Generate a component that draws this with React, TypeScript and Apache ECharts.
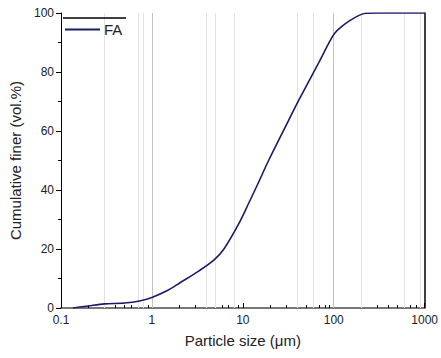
import React, { useEffect, useRef } from "react";
import * as echarts from "echarts";

const particleSize = [0.135, 0.2, 0.3, 0.5, 0.73, 1, 1.5, 2, 3.3, 4.8, 6.2, 9, 11.6, 15, 19.2, 32, 41, 68, 90, 103, 120, 150, 190, 225, 300, 1000];
const cumulativeFiner = [0, 0.7, 1.4, 1.7, 2.4, 3.6, 6.0, 8.4, 12.6, 16.2, 20.0, 28.5, 35.5, 42.8, 50, 63.7, 70.3, 83, 90.3, 93.2, 95.2, 97.4, 99.2, 99.9, 100, 100];
const gridLinesLight = [0.3, 0.7, 0.8, 4, 5, 8, 40, 60, 200, 600, 900];
const gridLinesDark = [1, 100];
const seriesName = "FA";

const FONT = "Liberation Sans, Arial, sans-serif";

export default function App() {
  const ref = useRef<HTMLDivElement>(null);
  useEffect(() => {
    document.body.style.margin = "0";
    const chart = echarts.init(ref.current!, null, { renderer: "svg" });
    const data = particleSize.map((x, i) => [x, cumulativeFiner[i]]);
    chart.setOption({
      animation: false,
      backgroundColor: "#fff",
      textStyle: { fontFamily: FONT },
      grid: { left: 61, right: 14, top: 13, bottom: 50 },
      legend: {
        left: 65,
        top: 22,
        padding: 0,
        itemWidth: 35,
        itemHeight: 2,
        itemGap: 4,
        data: [{ name: seriesName, icon: "rect" }],
        textStyle: { fontSize: 15, color: "#222", fontFamily: FONT, padding: [0, 0, 0, -1] },
      },
      xAxis: [
        {
          type: "log",
          logBase: 10,
          min: 0.1,
          max: 1000,
          name: "Particle size (\u03bcm)",
          nameLocation: "middle",
          nameGap: 25,
          nameTextStyle: { fontSize: 15, color: "#222", fontFamily: FONT },
          axisLine: { lineStyle: { color: "#000", width: 1 } },
          axisTick: { inside: true, length: 5, lineStyle: { color: "#000" } },
          minorTick: { show: true, splitNumber: 9, length: 3, lineStyle: { color: "#000" } },
          axisLabel: {
            fontSize: 12,
            color: "#222",
            margin: 6,
            formatter: (v: number) => String(v),
          },
          splitLine: { show: false },
        },
        {
          type: "value",
          position: "top",
          min: 0,
          max: 1,
          axisLine: { show: true, lineStyle: { color: "#777", width: 2 } },
          axisTick: { show: false },
          axisLabel: { show: false },
          splitLine: { show: false },
        },
      ],
      yAxis: [
        {
          type: "value",
          min: 0,
          max: 100,
          interval: 20,
          name: "Cumulative finer (vol.%)",
          nameLocation: "middle",
          nameGap: 34,
          nameTextStyle: { fontSize: 15, color: "#222", fontFamily: FONT },
          axisLine: { show: true, lineStyle: { color: "#000", width: 1 } },
          axisTick: { show: true, inside: false, length: 5, lineStyle: { color: "#000" } },
          minorTick: { show: true, splitNumber: 2, length: 3, lineStyle: { color: "#000" } },
          axisLabel: { fontSize: 12, color: "#222", margin: 7 },
          splitLine: { show: false },
        },
        {
          type: "value",
          position: "right",
          min: 0,
          max: 100,
          axisLine: { show: true, lineStyle: { color: "#000", width: 1.5 } },
          axisTick: { show: false },
          axisLabel: { show: false },
          splitLine: { show: false },
        },
      ],
      graphic: [
        {
          type: "line",
          shape: { x1: 63, y1: 18, x2: 126, y2: 18 },
          style: { stroke: "#000", lineWidth: 1.5 },
          z: 100,
        },
      ],
      series: [
        {
          name: seriesName,
          type: "line",
          xAxisIndex: 0,
          yAxisIndex: 0,
          data,
          smooth: 0.3,
          symbol: "none",
          lineStyle: { color: "#1c1c66", width: 1.6 },
          itemStyle: { color: "#1c1c66" },
          z: 5,
          markLine: {
            silent: true,
            symbol: "none",
            label: { show: false },
            z: 1,
            data: [
              ...gridLinesLight.map((v) => ({ xAxis: v, lineStyle: { color: "#e3e3e3", width: 1, type: "solid" } })),
              ...gridLinesDark.map((v) => ({ xAxis: v, lineStyle: { color: "#c4c4c4", width: 1, type: "solid" } })),
            ],
          },
        },
      ],
    });
    return () => chart.dispose();
  }, []);
  return <div ref={ref} style={{ width: 441, height: 358 }} />;
}
